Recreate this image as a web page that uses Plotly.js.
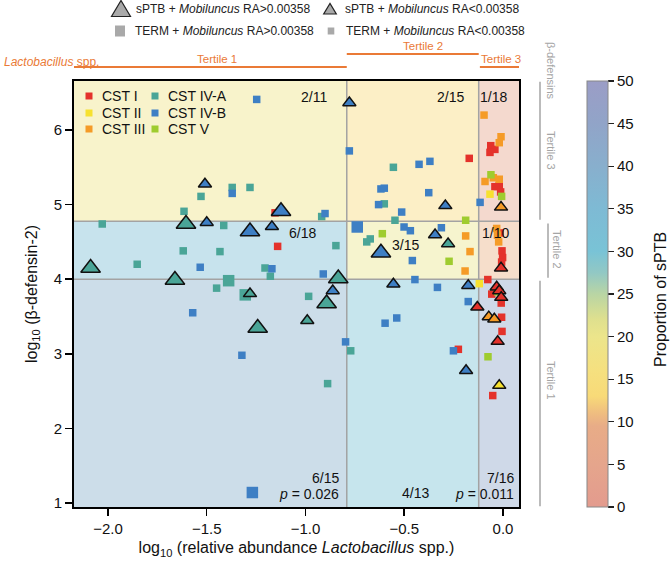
<!DOCTYPE html>
<html><head><meta charset="utf-8">
<script src="https://cdn.plot.ly/plotly-3.0.1.min.js"></script>
<style>html,body{margin:0;padding:0;background:#fff}</style>
</head><body><div id="chart" style="width:670px;height:562px"></div>
<script>
// ---------------- data ----------------
const xRange = [-2.172, 0.081];
const yRange = [0.946, 6.657];
const lactoCuts = [-0.791, -0.123];   // Lactobacillus tertile cut points (log10 RA)
const defCuts = [4.0, 4.776];         // beta-defensin-2 tertile cut points (log10)
// rows: defensin tertile 1..3 (bottom to top); cols: Lactobacillus tertile 1..3
const sptbCount = [[6, 4, 7], [6, 3, 1], [2, 2, 1]];
const groupTotal = [[15, 13, 16], [18, 15, 10], [11, 15, 18]];
const pValues = ['0.026', '0.011'];
const cstNames = ['CST I', 'CST II', 'CST III', 'CST IV-A', 'CST IV-B', 'CST V'];
// type codes: LT = sPTB + Mobiluncus RA>0.00358, ST = sPTB + RA<0.00358,
//             LS = TERM + Mobiluncus RA>0.00358, SS = TERM + RA<0.00358
const cst1_x = [-1.154,-1.141,-0.171,-0.062,-0.041,-0.066,-0.041,-0.019,-0.012,-0.015,-0.005,-0.002,-0.007,-0.010,-0.077,-0.032,-0.019,-0.057,-0.009,-0.009,-0.130,-0.007,-0.005,-0.027,-0.226,-0.052];
const cst1_y = [4.89,4.44,5.62,5.79,5.74,5.70,5.24,5.25,5.17,4.62,4.38,4.29,4.23,4.15,3.995,3.895,3.845,3.80,3.755,3.68,3.625,3.49,3.30,3.165,3.06,2.44];
const cst1_t = ['SS','SS','SS','SS','SS','SS','SS','SS','SS','SS','SS','SS','SS','ST','SS','ST','ST','SS','ST','SS','ST','SS','SS','ST','SS','SS'];
const cst2_x = [-0.066,-0.120,-0.019];
const cst2_y = [5.14,3.94,2.575];
const cst2_t = ['SS','SS','ST'];
const cst3_x = [-0.096,-0.010,-0.019,-0.049,-0.019,-0.091,-0.010,-0.032,-0.028,-0.022,-0.189,-0.167,-0.192,-0.072,-0.044];
const cst3_y = [6.20,5.91,5.83,5.36,5.34,5.31,4.965,4.68,4.59,4.50,4.58,4.37,4.11,3.495,3.465];
const cst3_t = ['SS','SS','SS','SS','SS','SS','ST','SS','SS','SS','SS','SS','SS','ST','ST'];
const cst4a_x = [-1.371,-1.281,-1.529,-1.615,-0.918,-1.605,-1.414,-2.029,-1.619,-1.433,-0.846,-2.088,-1.852,-1.205,-1.178,-0.834,-1.661,-1.389,-1.450,-1.305,-1.281,-0.984,-0.893,-0.991,-1.242,-0.771,-0.888,-0.555,-0.601,-0.547,-0.690,-0.672,-0.278];
const cst4a_y = [5.23,5.23,5.11,4.91,4.84,4.74,4.72,4.74,4.38,4.37,4.45,4.15,4.20,4.15,4.04,4.01,3.99,3.98,3.88,3.79,3.805,3.77,3.675,3.445,3.345,3.04,2.60,5.50,5.01,4.79,4.50,4.54,4.475];
const cst4a_t = ['SS','SS','SS','SS','SS','LT','SS','SS','SS','SS','SS','LT','SS','SS','SS','LT','LT','LS','SS','LS','ST','SS','LT','ST','LT','SS','SS','SS','SS','SS','SS','SS','ST'];
const cst4b_x = [-1.247,-1.509,-1.371,-1.124,-0.901,-1.500,-1.170,-1.281,-1.533,-1.170,-0.910,-0.862,-1.571,-1.322,-0.797,-1.269,-0.778,-0.778,-0.425,-0.370,-0.618,-0.601,-0.376,-0.630,-0.292,-0.513,-0.116,-0.738,-0.501,-0.469,-0.312,-0.344,-0.618,-0.459,-0.446,-0.555,-0.332,-0.176,-0.176,-0.597,-0.538,-0.251,-0.187];
const cst4b_y = [6.41,5.275,5.15,4.91,4.88,4.76,4.705,4.64,4.16,4.14,4.07,3.845,3.55,2.98,3.16,1.14,6.365,5.72,5.54,5.58,5.21,5.22,5.16,5.00,4.985,4.90,5.03,4.70,4.70,4.65,4.69,4.595,4.355,4.25,3.995,3.935,3.89,3.915,3.70,3.41,3.48,3.04,2.775];
const cst4b_t = ['SS','ST','SS','LT','SS','ST','ST','LT','SS','SS','SS','ST','SS','SS','SS','LS','ST','SS','SS','SS','SS','SS','SS','SS','ST','SS','SS','LS','SS','SS','SS','ST','LT','SS','SS','ST','SS','ST','SS','SS','SS','SS','ST'];
const cst5_x = [-0.061,-0.007,-0.189,-0.611,-0.273,-0.027,-0.076];
const cst5_y = [5.40,5.11,4.79,4.61,4.24,3.83,2.96];
const cst5_t = ['SS','SS','SS','SS','SS','SS','SS'];

// ---------------- styles ----------------
const FONT = 'Liberation Sans, Arial, Helvetica, sans-serif';
const cstColors = ['#e4322b', '#f7e12f', '#f59b27', '#4aa597', '#3e7fc4', '#9fcc2f'];
const cstData = [[cst1_x,cst1_y,cst1_t],[cst2_x,cst2_y,cst2_t],[cst3_x,cst3_y,cst3_t],
                 [cst4a_x,cst4a_y,cst4a_t],[cst4b_x,cst4b_y,cst4b_t],[cst5_x,cst5_y,cst5_t]];
const typeStyle = {
  SS: {symbol: 'square', size: 7.5, line: {width: 0}},
  LS: {symbol: 'square', size: 11.5, line: {width: 0}},
  ST: {symbol: 'triangle-up', size: 11.5, line: {color: '#111', width: 1.5}},
  LT: {symbol: 'triangle-up', size: 17, line: {color: '#111', width: 1.5}}
};
const colorscale = [
  [0, '#e39b8e'], [0.1, '#e5a58c'], [0.19, '#e8ac87'], [0.22, '#efbd80'], [0.26, '#f8da78'],
  [0.32, '#f5e07f'], [0.4, '#ece58b'], [0.44, '#dfe08e'], [0.5, '#b9d5a4'], [0.55, '#92c8c4'],
  [0.6, '#79c3d6'], [0.7, '#7ebad4'], [0.8, '#88afcd'], [0.9, '#91a4c8'], [1, '#9b9dc6']
];

// plot-area pixel geometry (for placing outside decorations)
const L = 74, R = 519, T = 81, B = 507, W = R - L, H = B - T;
const fx = px => (px - L) / W;
const fy = py => (B - py) / H;

// ---------------- traces ----------------
const traces = [];
const xEdges = [xRange[0], lactoCuts[0], lactoCuts[1], xRange[1]];
const yEdges = [yRange[0], defCuts[0], defCuts[1], yRange[1]];
const zGrid = sptbCount.map((row, i) => row.map((c, j) => 100 * c / groupTotal[i][j]));
traces.push({
  type: 'heatmap', x: xEdges, y: yEdges, z: zGrid, zmin: 0, zmax: 50,
  colorscale: colorscale, opacity: 0.42, hoverinfo: 'skip',
  colorbar: {
    x: fx(587), xanchor: 'left', xpad: 0, ypad: 0, y: 0.5, yanchor: 'middle',
    len: 1, lenmode: 'fraction', thickness: 21, thicknessmode: 'pixels',
    outlinewidth: 1, outlinecolor: '#888',
    ticks: 'outside', ticklen: 6, tickwidth: 1.2, tickcolor: '#222',
    tick0: 0, dtick: 5, tickfont: {size: 15, color: '#111', family: FONT}
  }
});
// tertile divider lines
lactoCuts.forEach(c => traces.push({type: 'scatter', mode: 'lines', x: [c, c], y: yRange,
  line: {color: '#a3a3a3', width: 1.5}, hoverinfo: 'skip', showlegend: false}));
defCuts.forEach(c => traces.push({type: 'scatter', mode: 'lines', x: xRange, y: [c, c],
  line: {color: '#a3a3a3', width: 1.5}, hoverinfo: 'skip', showlegend: false}));
// points: squares first, triangles on top
['SS', 'LS', 'ST', 'LT'].forEach(tp => {
  const xs = [], ys = [], cs = [];
  cstData.forEach((d, k) => {
    d[2].forEach((t, i) => { if (t === tp) { xs.push(d[0][i]); ys.push(d[1][i]); cs.push(cstColors[k]); } });
  });
  const st = typeStyle[tp];
  traces.push({type: 'scatter', mode: 'markers', x: xs, y: ys, showlegend: false, cliponaxis: false,
    marker: {symbol: st.symbol, size: st.size, color: cs, opacity: 1, line: st.line}});
});

// ---------------- annotations & shapes ----------------
const ann = [];
const shapes = [];
const A = (px, py, text, opts) => ann.push(Object.assign({xref: 'paper', yref: 'paper', x: fx(px), y: fy(py),
  text: text, showarrow: false, xanchor: 'left', yanchor: 'middle', font: {size: 14, color: '#111', family: FONT}}, opts || {}));

// fraction labels
const labelPos = [
  {r: 2, c: 0, px: 329, py: 97, xa: 'right'}, {r: 2, c: 1, px: 466, py: 97, xa: 'right'}, {r: 2, c: 2, px: 509, py: 97, xa: 'right'},
  {r: 1, c: 0, px: 318, py: 233, xa: 'right'}, {r: 1, c: 1, px: 421, py: 245, xa: 'right'}, {r: 1, c: 2, px: 511, py: 233, xa: 'right'},
  {r: 0, c: 0, px: 341, py: 478, xa: 'right'}, {r: 0, c: 1, px: 415, py: 493, xa: 'center'}, {r: 0, c: 2, px: 516, py: 478, xa: 'right'}
];
labelPos.forEach(p => A(p.px, p.py, sptbCount[p.r][p.c] + '/' + groupTotal[p.r][p.c], {xanchor: p.xa}));
A(341, 494, '<i>p</i> = ' + pValues[0], {xanchor: 'right'});
A(516, 494, '<i>p</i> = ' + pValues[1], {xanchor: 'right'});

// CST legend inside plot
const cstLegPos = [[89, 96], [89, 113], [89, 129], [155, 96], [155, 113], [155, 129]];
cstNames.forEach((n, k) => {
  const p = cstLegPos[k];
  shapes.push({type: 'rect', xref: 'paper', yref: 'paper', xsizemode: 'pixel', ysizemode: 'pixel',
    xanchor: fx(p[0]), yanchor: fy(p[1]), x0: -3.5, x1: 3.5, y0: -3.5, y1: 3.5,
    fillcolor: cstColors[k], line: {width: 0}});
  A(p[0] + 11, p[1], n, {font: {size: 14, color: '#111', family: FONT}});
});

// top legend
const legText = ['sPTB + <i>Mobiluncus</i> RA&gt;0.00358', 'sPTB + <i>Mobiluncus</i> RA&lt;0.00358',
                 'TERM + <i>Mobiluncus</i> RA&gt;0.00358', 'TERM + <i>Mobiluncus</i> RA&lt;0.00358'];
const legSym = [
  {px: 121, py: 9, path: 'M-9.5,-7.5 L9.5,-7.5 L0,8.5 Z', tri: true},
  {px: 330, py: 9, path: 'M-6.3,-5 L6.3,-5 L0,5.5 Z', tri: true},
  {px: 120, py: 31, path: 'M-5,-5.5 H5 V5.5 H-5 Z', tri: false},
  {px: 331, py: 31, path: 'M-3.3,-3.5 H3.3 V3.5 H-3.3 Z', tri: false}
];
legSym.forEach((s, k) => {
  shapes.push({type: 'path', xref: 'paper', yref: 'paper', xsizemode: 'pixel', ysizemode: 'pixel',
    xanchor: fx(s.px), yanchor: fy(s.py), path: s.path, fillcolor: '#a9a9a9',
    line: s.tri ? {color: '#222', width: 1.2} : {width: 0}});
  A(s.px + 13, s.py, legText[k], {font: {size: 12, color: '#222', family: FONT}});
});

// Lactobacillus tertile brackets (top, orange)
const ORANGE = '#ea7a36';
A(2, 62, '<i>Lactobacillus</i> spp.', {font: {size: 12, color: ORANGE, family: FONT}});
A(217, 59, 'Tertile 1', {xanchor: 'center', font: {size: 11.5, color: ORANGE, family: FONT}});
A(423, 46, 'Tertile 2', {xanchor: 'center', font: {size: 11.5, color: ORANGE, family: FONT}});
A(501, 59, 'Tertile 3', {xanchor: 'center', font: {size: 11.5, color: ORANGE, family: FONT}});
shapes.push({type: 'line', xref: 'x', yref: 'paper', x0: xRange[0], x1: lactoCuts[0], y0: fy(67), y1: fy(67), line: {color: ORANGE, width: 2}});
shapes.push({type: 'line', xref: 'x', yref: 'paper', x0: lactoCuts[0], x1: lactoCuts[1], y0: fy(54), y1: fy(54), line: {color: ORANGE, width: 2}});
shapes.push({type: 'line', xref: 'x', yref: 'paper', x0: lactoCuts[1] + 0.006, x1: xRange[1], y0: fy(67), y1: fy(67), line: {color: ORANGE, width: 2}});

// beta-defensin tertile brackets (right, gray)
const GRAY = '#a5a5a5';
const gfont = {size: 11, color: GRAY, family: FONT};
A(551, 71, 'β-defensins', {xanchor: 'center', textangle: 90, font: gfont});
A(551, 150, 'Tertile 3', {xanchor: 'center', textangle: 90, font: gfont});
A(557, 249, 'Tertile 2', {xanchor: 'center', textangle: 90, font: gfont});
A(551, 380, 'Tertile 1', {xanchor: 'center', textangle: 90, font: gfont});
shapes.push({type: 'line', xref: 'paper', yref: 'y', x0: fx(540), x1: fx(540), y0: defCuts[1] + 0.02, y1: yRange[1] - 0.01, line: {color: GRAY, width: 1.5}});
shapes.push({type: 'line', xref: 'paper', yref: 'y', x0: fx(548), x1: fx(548), y0: defCuts[0] + 0.02, y1: defCuts[1] - 0.03, line: {color: GRAY, width: 1.5}});
shapes.push({type: 'line', xref: 'paper', yref: 'y', x0: fx(540), x1: fx(540), y0: yRange[0] + 0.01, y1: defCuts[0] - 0.02, line: {color: GRAY, width: 1.5}});

// colour bar title and red reference line at 20 %
A(660, 300, 'Proportion of sPTB', {xanchor: 'center', textangle: -90, font: {size: 16, color: '#111', family: FONT}});
shapes.push({type: 'line', xref: 'paper', yref: 'paper', x0: fx(587), x1: fx(608), y0: 20 / 50, y1: 20 / 50, line: {color: '#c4521f', width: 2.5}});

const axisCommon = {
  showgrid: false, zeroline: false, showline: true, linewidth: 2, linecolor: '#000', mirror: true,
  ticks: 'outside', ticklen: 7, tickwidth: 1.5, tickcolor: '#000',
  tickfont: {size: 15, color: '#111', family: FONT}
};
const layout = {
  width: 670, height: 562,
  margin: {l: L, r: 670 - R, t: T, b: 562 - B, pad: 0},
  paper_bgcolor: '#fff', plot_bgcolor: '#fff',
  font: {family: FONT, color: '#111'},
  showlegend: false,
  xaxis: Object.assign({}, axisCommon, {range: xRange, tickvals: [-2, -1.5, -1, -0.5, 0], tickformat: '.1f',
    title: {text: 'log<sub>10</sub> (relative abundance <i>Lactobacillus</i> spp.)', font: {size: 16, color: '#111', family: FONT}, standoff: 6}}),
  yaxis: Object.assign({}, axisCommon, {range: yRange, tickvals: [1, 2, 3, 4, 5, 6],
    title: {text: 'log<sub>10</sub> (β-defensin-2)', font: {size: 16, color: '#111', family: FONT}, standoff: 12}}),
  annotations: ann,
  shapes: shapes
};
Plotly.newPlot('chart', traces, layout, {displayModeBar: false, staticPlot: true});
</script></body></html>
